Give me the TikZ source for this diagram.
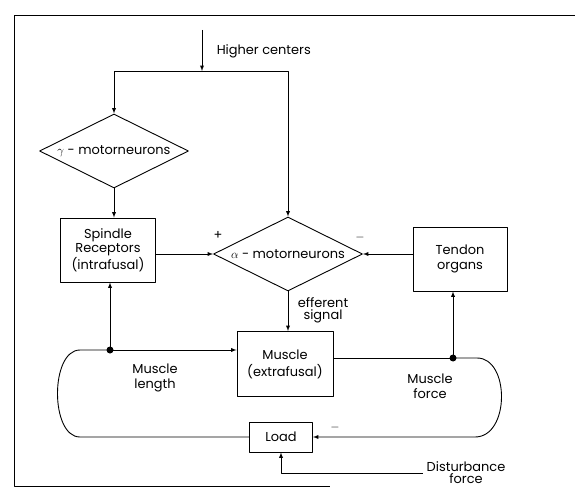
\documentclass[tikz,border=0pt]{standalone}
\usepackage{fontspec}
\setmainfont{Poppins}
\usetikzlibrary{shapes.geometric}
\begin{document}
\begin{tikzpicture}[x=1bp,y=-1bp,>=latex,line join=bevel,line width=0.9bp,
  every node/.style={font=\fontsize{13}{15}\selectfont,align=center},
  box/.style={draw,inner sep=0pt},
  decision/.style={draw,diamond,aspect=2,inner sep=0pt,minimum width=149bp,minimum height=74bp},
  junction/.style={circle,fill,inner sep=0pt,minimum size=7bp}]
\useasboundingbox (0,0) rectangle (575,493);
%% frame
\draw (575,15) -- (14,15) -- (14,486) -- (330,486);
%%
\node (node_gamma) at (114,151) [decision] {$\gamma$ - motorneurons};
  \node (node_alpha) at (288,254) [decision] {$\alpha$ - motorneurons};
  \node (node_spindle) at (108,250) [box,minimum width=95bp,minimum height=64bp] {Spindle\\Receptors\\(intrafusal)};
  \node (node_tendon) at (460,259) [box,minimum width=94bp,minimum height=64bp] {Tendon\\organs};
  \node (node_muscle) at (285,364) [box,minimum width=96bp,minimum height=65bp] {Muscle\\[2pt](extrafusal)};
  \node (node_load) at (281,437) [box,minimum width=63bp,minimum height=30bp] {Load};
  \node (node_higher) at (213,51) [anchor=west] {Higher centers};
  \node (node_dist) at (466,473) {Disturbance\\[-3pt]force};
  \node (node_efferent) at (323,310) {efferent\\[-3pt]signal};
  \node (node_length) at (155,378) {Muscle\\length};
  \node (node_force) at (430,386) {Muscle\\force};
  \node (node_plus) at (218,235) {+};
  \node (node_minus) at (360,238) {$-$};
  \node (node_minus2) at (335,428) {$-$};
  \coordinate (top) at (202,30);
  \coordinate (split) at (202,71);
  \node (dot_length) at (110,350) [junction] {};
  \node (dot_force) at (453,358) [junction] {};
%
\draw [->] (top) -- (split);
  \draw [->] (split) -| (node_gamma.north);
  \draw [->] (split) -| (node_alpha.north);
  \draw [->] (node_gamma.south) -- (node_gamma.south |- node_spindle.north);
  \draw [->] (node_alpha.west -| node_spindle.east) -- (node_alpha.west);
  \draw [->] (node_alpha.east -| node_tendon.west) -- (node_alpha.east);
  \draw [->] (node_alpha.south) -- (node_alpha.south |- node_muscle.north);
  \draw [->] (dot_length.center) -- (dot_length |- node_spindle.south);
  \draw [->] (dot_length.center) -- (dot_length -| node_muscle.west);
  \draw [->] (dot_force.center) -- (dot_force |- node_tendon.south);
  \draw (dot_force -| node_muscle.east) -- (dot_force.center);
  \draw (dot_length.center) -- (80,350) ..controls (50,350) and (50,437) .. (80,437) -- (node_load.west);
  \draw [->] (dot_force.center) -- (477,358) ..controls (510,358) and (510,437) .. (475,437) -- (node_load.east);
  \draw [->] (node_dist.west) -| (node_load.south);
%
\end{tikzpicture}
\end{document}
